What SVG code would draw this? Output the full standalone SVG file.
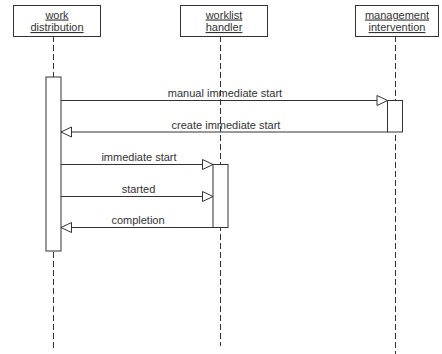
<svg xmlns="http://www.w3.org/2000/svg" width="442" height="354" viewBox="0 0 442 354">
  <style>
    .box { fill: #ffffff; stroke: #333333; stroke-width: 1; }
    .life { stroke: #333333; stroke-width: 1; stroke-dasharray: 6 3; fill: none; }
    .act { fill: #ffffff; stroke: #333333; stroke-width: 1; }
    .msg { stroke: #333333; stroke-width: 1; fill: none; }
    .head { fill: #ffffff; stroke: #333333; stroke-width: 1; }
    text { font-family: "Liberation Sans", Arial, sans-serif; font-size: 11px; fill: #333333; text-anchor: middle; }
    .name { text-decoration: underline; }
  </style>

  <!-- lifelines -->
  <g id="lifelines">
    <line class="life" x1="53.5" y1="36" x2="53.5" y2="348"/>
    <line class="life" x1="220.5" y1="36" x2="220.5" y2="346"/>
    <line class="life" x1="395.5" y1="36" x2="395.5" y2="354"/>
  </g>

  <g id="work-distribution">
    <rect class="box" x="13.5" y="5.5" width="87" height="31"/>
    <text class="name" x="57" y="18.5">work</text>
    <text class="name" x="57" y="31">distribution</text>
    <rect class="act" x="46" y="77" width="15" height="174"/>
  </g>

  <g id="worklist-handler">
    <rect class="box" x="180.5" y="5.5" width="87" height="31"/>
    <text class="name" x="224" y="18.5">worklist</text>
    <text class="name" x="224" y="31">handler</text>
    <rect class="act" x="213" y="164.5" width="15" height="63"/>
  </g>

  <g id="management-intervention">
    <rect class="box" x="355.5" y="5.5" width="83" height="31"/>
    <text class="name" x="397" y="18.5">management</text>
    <text class="name" x="397" y="31">intervention</text>
    <rect class="act" x="387.5" y="100.5" width="15" height="31.5"/>
  </g>

  <g id="connectors">
    <!-- manual immediate start -->
    <line class="msg" x1="61" y1="100.5" x2="387.5" y2="100.5"/>
    <polygon class="head" points="377,95.5 387.5,100.5 377,105.5"/>
    <text x="225" y="97">manual immediate start</text>

    <!-- create immediate start -->
    <line class="msg" x1="387.5" y1="132" x2="61" y2="132"/>
    <polygon class="head" points="71.5,127 61,132 71.5,137"/>
    <text x="226" y="129">create immediate start</text>

    <!-- immediate start -->
    <line class="msg" x1="61" y1="164.5" x2="213" y2="164.5"/>
    <polygon class="head" points="202.5,159.5 213,164.5 202.5,169.5"/>
    <text x="139" y="161">immediate start</text>

    <!-- started -->
    <line class="msg" x1="61" y1="196.5" x2="213" y2="196.5"/>
    <polygon class="head" points="202.5,191.5 213,196.5 202.5,201.5"/>
    <text x="138.5" y="193">started</text>

    <!-- completion -->
    <line class="msg" x1="213" y1="227.5" x2="61" y2="227.5"/>
    <polygon class="head" points="71.5,222.5 61,227.5 71.5,232.5"/>
    <text x="138" y="224">completion</text>
  </g>
</svg>
